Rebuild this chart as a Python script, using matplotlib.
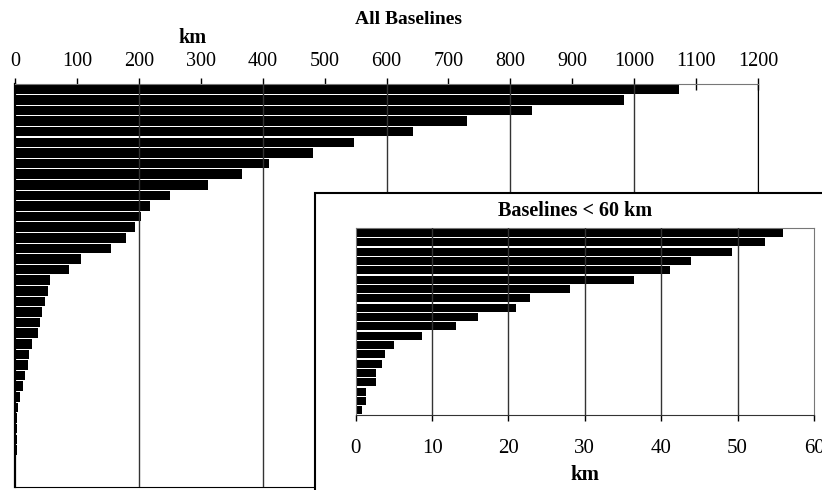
import matplotlib.pyplot as plt
import matplotlib.patches as patches
import numpy as np

# baseline lengths in km, longest first
long_km = [1072, 984, 835, 730, 642, 547, 482, 410, 367, 312, 250, 218,
           203, 194, 180, 155, 107, 88]
short_km = [55.9, 53.6, 49.2, 43.9, 41.1, 36.4, 28.1, 22.8, 21.0, 16.0,
            13.1, 8.7, 5.0, 3.9, 3.4, 2.7, 2.7, 1.4, 1.4, 0.8]
all_km = long_km + short_km

main_ticks = list(range(0, 1201, 100))
main_grid = list(range(200, 1201, 200))
inset_ticks = list(range(0, 61, 10))

plt.rcParams['font.family'] = ['Liberation Serif', 'DejaVu Serif']

W, H = 822, 490
fig = plt.figure(figsize=(W / 100, H / 100), dpi=100)

def fig_rect(x0, y0, x1, y1):
    # pixel box (top-left origin) -> figure fraction
    return [x0 / W, 1 - y1 / H, (x1 - x0) / W, (y1 - y0) / H]

# main chart
ax = fig.add_axes(fig_rect(15, 84, 758, 487))
ax.set_zorder(0)
y = np.arange(len(all_km))
ax.barh(y, all_km, height=0.9, color='black', zorder=2)
ax.set_ylim(len(all_km) - 0.5, -0.5)
ax.set_xlim(0, 1200)
for g in main_grid:
    ax.axvline(g, color='#333333', lw=1, zorder=3)
ax.set_yticks([])
ax.set_xticks(main_ticks)
ax.xaxis.tick_top()
ax.tick_params(axis='x', direction='inout', length=9, width=1, pad=5,
               labelsize=14.5, color='black')
ax.spines['top'].set_color('#777777')
ax.spines['right'].set_color('black')
ax.spines['left'].set_color('black')
ax.spines['left'].set_linewidth(1.6)
ax.spines['bottom'].set_color('black')

fig.text(408 / W, 1 - 20 / H, 'All Baselines', ha='center', va='center',
         fontsize=14, fontweight='bold')
fig.text(192 / W, 1 - 38 / H, 'km', ha='center', va='center',
         fontsize=14.5, fontweight='bold')

# white frame behind the inset
frame = patches.Rectangle((315 / W, -0.1), 1.0, (H - 193) / H + 0.1,
                          transform=fig.transFigure, facecolor='white',
                          edgecolor='black', lw=1.5, zorder=1)
fig.add_artist(frame)

# inset: baselines shorter than 60 km
ax2 = fig.add_axes(fig_rect(355.7, 228.3, 814, 415))
ax2.set_zorder(2)
y2 = np.arange(len(short_km))
ax2.barh(y2, short_km, height=0.88, color='black', zorder=2)
ax2.set_ylim(len(short_km) - 0.5, -0.5)
ax2.set_xlim(0, 60)
for g in inset_ticks[1:-1]:
    ax2.axvline(g, color='#333333', lw=1, zorder=3)
ax2.set_yticks([])
ax2.set_xticks(inset_ticks)
ax2.tick_params(axis='x', direction='out', length=4, width=1, pad=13,
                labelsize=15)
for s in ['top', 'right', 'left']:
    ax2.spines[s].set_color('#777777')
ax2.spines['bottom'].set_color('#333333')
ax2.set_xlabel('km', fontsize=15, fontweight='bold', labelpad=5)
fig.text(575 / W, 1 - 211 / H, 'Baselines < 60 km', ha='center',
         va='center', fontsize=14.5, fontweight='bold')

fig.savefig('out.png', dpi=100)
